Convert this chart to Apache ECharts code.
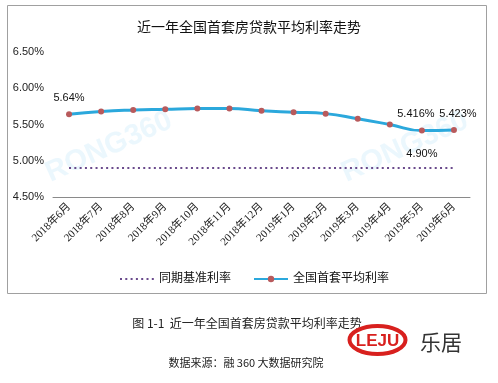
<!DOCTYPE html>
<html>
<head>
<meta charset="utf-8">
<script src="https://cdn.jsdelivr.net/npm/echarts@6/dist/echarts.min.js"></script>
<style>html,body{margin:0;padding:0;background:#fff;}#c{width:498px;height:383px;}</style>
</head>
<body>
<div id="c"></div>
<script>
const categories = ['2018年6月','2018年7月','2018年8月','2018年9月','2018年10月','2018年11月','2018年12月','2019年1月','2019年2月','2019年3月','2019年4月','2019年5月','2019年6月'];
const avgRate = [5.64, 5.68, 5.70, 5.71, 5.72, 5.72, 5.69, 5.67, 5.65, 5.58, 5.50, 5.416, 5.423];
const baseRate = [4.90, 4.90, 4.90, 4.90, 4.90, 4.90, 4.90, 4.90, 4.90, 4.90, 4.90, 4.90, 4.90];
const avgLabels = {0: '5.64%', 11: '5.416%', 12: '5.423%'};
const baseLabels = {11: '4.90%'};
const yTicks = [4.5, 5.0, 5.5, 6.0, 6.5];
const titleText = '近一年全国首套房贷款平均利率走势';
const captionText = '图 1-1  近一年全国首套房贷款平均利率走势';
const sourceText = '数据来源：融 360 大数据研究院';

const chart = echarts.init(document.getElementById('c'));
const cjk = '"Liberation Sans","Noto Sans CJK SC",sans-serif';
const serif = '"Liberation Serif","Noto Sans CJK SC",serif';

chart.setOption({
  animation: false,
  backgroundColor: '#fff',
  title: {
    text: titleText, left: 'center', top: 16,
    textStyle: {fontSize: 14, fontWeight: 'normal', color: '#111', fontFamily: cjk}
  },
  legend: {
    left: 114, top: 268, itemWidth: 34, itemHeight: 8, itemGap: 22,
    textStyle: {fontSize: 12, color: '#111', fontFamily: cjk},
    data: [
      {name: '同期基准利率', itemStyle: {opacity: 0}},
      {name: '全国首套平均利率'}
    ]
  },
  grid: {left: 53, right: 28, top: 52, bottom: 186},
  xAxis: {
    type: 'category', data: categories, boundaryGap: true,
    axisLine: {lineStyle: {color: '#8a8a8a', width: 1}},
    axisTick: {show: false},
    axisLabel: {rotate: 45, fontSize: 11, color: '#222', fontFamily: serif, margin: 8, interval: 0}
  },
  yAxis: {
    type: 'value', min: yTicks[0], max: yTicks[yTicks.length-1], interval: 0.5,
    axisLine: {show: false}, axisTick: {show: false}, splitLine: {show: false},
    axisLabel: {fontSize: 11, color: '#222', fontFamily: cjk, margin: 9, formatter: v => v.toFixed(2) + '%'}
  },
  graphic: [
    {type: 'rect', shape: {x: 7.5, y: 5.5, width: 479, height: 288}, style: {fill: 'none', stroke: '#a0a0a0', lineWidth: 1}, z: 0},
    {type: 'text', x: 109, y: 147, rotation: 0.42, z: 0, silent: true,
     style: {text: 'RONG360', font: 'bold 29px "Liberation Sans",sans-serif', fill: 'rgba(175,225,247,0.25)', textAlign: 'center', textVerticalAlign: 'middle'}},
    {type: 'text', x: 405, y: 147, rotation: 0.42, z: 0, silent: true,
     style: {text: 'RONG360', font: 'bold 29px "Liberation Sans",sans-serif', fill: 'rgba(175,225,247,0.25)', textAlign: 'center', textVerticalAlign: 'middle'}},
    {type: 'text', x: 247, y: 323, z: 5,
     style: {text: captionText, font: '12px "Noto Sans CJK SC",sans-serif', fill: '#222', textAlign: 'center', textVerticalAlign: 'middle'}},
    {type: 'text', x: 246, y: 363, z: 5,
     style: {text: sourceText, font: '11px "Noto Sans CJK SC",sans-serif', fill: '#222', textAlign: 'center', textVerticalAlign: 'middle'}},
    {type: 'ellipse', shape: {cx: 377.5, cy: 340, rx: 28, ry: 14}, z: 6,
     style: {fill: '#fff', stroke: '#d8201e', lineWidth: 4}},
    {type: 'text', x: 377.5, y: 341, z: 7,
     style: {text: 'LEJU', font: 'bold 17px "Liberation Sans Narrow","Liberation Sans",sans-serif', fill: '#d8201e', textAlign: 'center', textVerticalAlign: 'middle'}},
    {type: 'text', x: 420, y: 342, z: 7,
     style: {text: '乐居', font: '21px "Noto Sans CJK SC",sans-serif', fill: '#333', textAlign: 'left', textVerticalAlign: 'middle'}}
  ],
  series: [
    {
      name: '同期基准利率', type: 'line', data: baseRate, z: 3,
      symbol: 'circle', symbolSize: 0.01, showSymbol: true,
      lineStyle: {color: '#6a4a8c', width: 2, type: [2, 3.3]},
      itemStyle: {color: '#6a4a8c'},
      label: {show: true, position: 'top', distance: 9, fontSize: 11, color: '#111', fontFamily: cjk,
        formatter: p => baseLabels[p.dataIndex] || ''},
      labelLayout: {hideOverlap: false}
    },
    {
      name: '全国首套平均利率', type: 'line', data: avgRate, smooth: true, z: 4,
      symbol: 'circle', symbolSize: 6,
      lineStyle: {color: '#2ba8dc', width: 3},
      itemStyle: {color: '#b85a5c'},
      label: {show: true, position: 'top', distance: 8, fontSize: 11, color: '#111', fontFamily: cjk,
        formatter: p => avgLabels[p.dataIndex] || ''},
      labelLayout: p => p.dataIndex === 11 ? {dx: -6} : (p.dataIndex === 12 ? {dx: 4} : {})
    }
  ]
});
</script>
</body>
</html>
